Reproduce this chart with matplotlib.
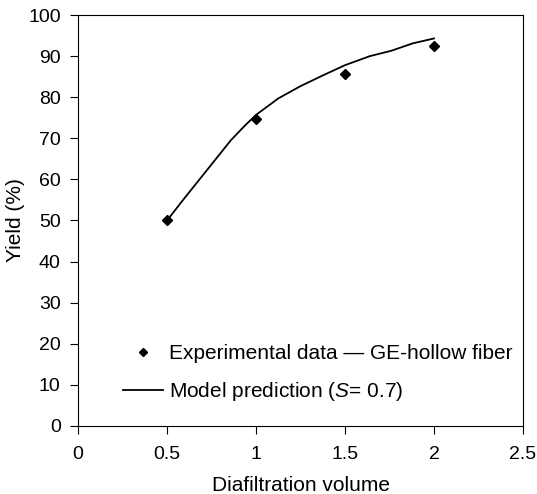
import matplotlib
matplotlib.use("Agg")
import matplotlib.pyplot as plt

plt.rcParams['font.family'] = ['Liberation Sans', 'DejaVu Sans']
plt.rcParams['mathtext.fontset'] = 'custom'
plt.rcParams['mathtext.rm'] = 'Liberation Sans'
plt.rcParams['mathtext.it'] = 'Liberation Sans:italic'

# experimental points
exp_x = [0.5, 1.0, 1.5, 2.0]
exp_y = [50.0, 74.7, 85.7, 92.5]

# model prediction curve
model_x = [0.5, 0.59, 0.86, 0.94, 1.0, 1.125, 1.25, 1.38, 1.5, 1.64, 1.76, 1.88, 2.0]
model_y = [50.0, 55.0, 69.6, 73.2, 75.7, 79.7, 82.7, 85.4, 87.8, 90.0, 91.3, 93.1, 94.3]

x_ticks = [0, 0.5, 1, 1.5, 2, 2.5]
x_labels = ["0", "0.5", "1", "1.5", "2", "2.5"]
y_ticks = list(range(0, 101, 10))

fig = plt.figure(figsize=(5.37, 4.94), dpi=100)
ax = fig.add_axes([0.1453, 0.1377, 0.8287, 0.8319])

ax.plot(exp_x, exp_y, linestyle="none", marker="D", markersize=5.5, color="black",
        label="Experimental data \u2014 GE-hollow fiber")
ax.plot(model_x, model_y, color="black", linewidth=1.3,
        label=r"Model prediction ($\mathit{S}$= 0.7)")

ax.set_xlim(0, 2.5)
ax.set_ylim(0, 100)
ax.set_xticks(x_ticks)
ax.set_xticklabels(x_labels)
ax.set_yticks(y_ticks)
ax.tick_params(direction="out", length=6, width=0.8, labelsize=14)
ax.tick_params(axis="x", pad=8.5)
ax.tick_params(axis="y", pad=6.5)
for s in ax.spines.values():
    s.set_linewidth(0.8)

ax.set_xlabel("Diafiltration volume", fontsize=15, labelpad=9)
ax.set_ylabel("Yield (%)", fontsize=15, labelpad=2)

ax.legend(loc="lower left", bbox_to_anchor=(0.101, 0.056), frameon=False, fontsize=15,
          handlelength=1.92, handletextpad=0.3, labelspacing=0.8, borderaxespad=0,
          borderpad=0, markerscale=0.8)

fig.savefig("out.png", dpi=100)
